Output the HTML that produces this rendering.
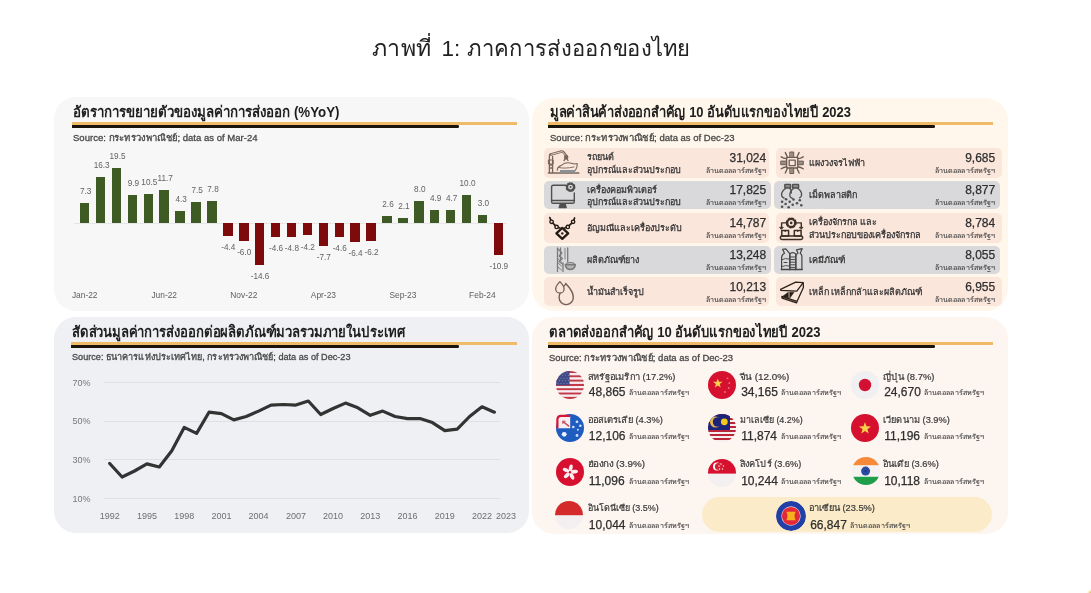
<!DOCTYPE html>
<html><head><meta charset="utf-8"><style>
*{margin:0;padding:0;box-sizing:border-box}
html,body{width:1091px;height:593px;overflow:hidden;background:#fff;font-family:"Liberation Sans", sans-serif;color:#222}
.ab{position:absolute;white-space:nowrap;line-height:1}
.pn{position:absolute;border-radius:22px}
.ttl{position:absolute;font-weight:bold;font-size:15px;color:#1e1e1e;white-space:nowrap;line-height:1}
.src{position:absolute;font-size:9px;color:#4a4a4a;-webkit-text-stroke:0.3px #4a4a4a;white-space:nowrap;line-height:1}
.ol{position:absolute;height:2.5px;background:#efbb69}
.bl{position:absolute;height:2.7px;background:#1a130d;border-radius:0 1.3px 1.3px 0}
.bar{position:absolute;width:9.6px}
.g{background:#3e5b26}
.r{background:#7d0b0b}
.vl{position:absolute;font-size:8.2px;color:#626262;line-height:1;white-space:nowrap;transform:translate(-50%,-50%)}
.xl{position:absolute;font-size:9px;color:#6e6e6e;line-height:1;white-space:nowrap;transform:translate(-50%,-50%)}
.row{position:absolute;border-radius:5px}
.pk{background:#fbe6dc}
.gy{background:#d9d9db}
.rt{position:absolute;font-size:9px;color:#333;-webkit-text-stroke:0.25px #333;line-height:1;white-space:nowrap}
.num{position:absolute;font-size:12px;color:#2e2e2e;-webkit-text-stroke:0.25px #2e2e2e;line-height:1;white-space:nowrap}
.unit{position:absolute;font-size:7px;color:#4a4a4a;-webkit-text-stroke:0.15px #4a4a4a;line-height:1;white-space:nowrap}
.flag{position:absolute;border-radius:50%;overflow:hidden}
.cn{position:absolute;font-size:9px;color:#3a3a3a;-webkit-text-stroke:0.2px #3a3a3a;line-height:1;white-space:nowrap}
.cv{position:absolute;font-size:12px;color:#2e2e2e;-webkit-text-stroke:0.25px #2e2e2e;line-height:1;white-space:nowrap}
.cu{position:absolute;font-size:7px;color:#4a4a4a;-webkit-text-stroke:0.15px #4a4a4a;line-height:1;white-space:nowrap}
</style></head><body><div style="position:absolute;left:0;top:0;width:1091px;height:593px;filter:blur(0.35px)">

<div class="ab" id="ti1" style="left:372.2px;top:37.65px;font-size:22.5px;color:#222;transform:scaleX(1.0259);transform-origin:0 0;">ภาพที่</div>
<div class="ab" id="ti2" style="left:441.6px;top:37.65px;font-size:22.5px;color:#222;">1:</div>
<div class="ab" id="ti3" style="left:467px;top:37.65px;font-size:22.5px;color:#222;transform:scaleX(0.9781);transform-origin:0 0;">ภาคการส่งออกของไทย</div>
<div class="pn" style="left:53.5px;top:97px;width:475.8px;height:214.3px;background:#f7f7f7"></div>
<div class="pn" style="left:53.5px;top:317.3px;width:475.8px;height:216px;background:#eff0f4"></div>
<div class="pn" style="left:531.8px;top:97.8px;width:475.8px;height:213.4px;background:#fff7eb"></div>
<div class="pn" style="left:531.8px;top:317.3px;width:475.8px;height:216.3px;background:#fdf5f0"></div>
<div class="ttl" id="t1" style="left:72.6px;top:103.80px;transform:scaleX(0.8867);transform-origin:0 0;">อัตราการขยายตัวของมูลค่าการส่งออก (%YoY)</div>
<div class="ol" style="left:71.5px;top:122px;width:445.0px"></div>
<div class="bl" style="left:71.5px;top:125px;width:387.2px"></div>
<div class="src" id="t1s" style="left:72.6px;top:133.58px;transform:scaleX(1.0600);transform-origin:0 0;">Source: กระทรวงพาณิชย์; data as of Mar-24</div>
<div class="ttl" id="t2" style="left:72.3px;top:323.80px;transform:scaleX(0.8730);transform-origin:0 0;">สัดส่วนมูลค่าการส่งออกต่อผลิตภัณฑ์มวลรวมภายในประเทศ</div>
<div class="ol" style="left:71.2px;top:342.2px;width:445.8px"></div>
<div class="bl" style="left:71.2px;top:345.2px;width:387.5px"></div>
<div class="src" id="t2s" style="left:72.3px;top:353.38px;transform:scaleX(1.0143);transform-origin:0 0;">Source: ธนาคารแห่งประเทศไทย, กระทรวงพาณิชย์; data as of Dec-23</div>
<div class="ttl" id="t3" style="left:549.6px;top:104.10px;transform:scaleX(0.8635);transform-origin:0 0;">มูลค่าสินค้าส่งออกสำคัญ 10 อันดับแรกของไทยปี 2023</div>
<div class="ol" style="left:548.1px;top:122.1px;width:444.7px"></div>
<div class="bl" style="left:548.1px;top:125.1px;width:387.3px"></div>
<div class="src" id="t3s" style="left:549.6px;top:133.58px;transform:scaleX(1.0569);transform-origin:0 0;">Source: กระทรวงพาณิชย์; data as of Dec-23</div>
<div class="ttl" id="t4" style="left:549.2px;top:323.70px;transform:scaleX(0.8714);transform-origin:0 0;">ตลาดส่งออกสำคัญ 10 อันดับแรกของไทยปี 2023</div>
<div class="ol" style="left:548px;top:342.2px;width:445.0px"></div>
<div class="bl" style="left:548px;top:345.2px;width:387.0px"></div>
<div class="src" id="t4s" style="left:549.2px;top:353.98px;transform:scaleX(1.0541);transform-origin:0 0;">Source: กระทรวงพาณิชย์; data as of Dec-23</div>
<div class="ab" style="left:74px;top:222.9px;width:433px;height:1px;background:#e6e6e6"></div>
<div class="bar g" style="left:79.9px;top:202.7px;height:20.7px"></div>
<div class="vl" style="left:85.7px;top:191.7px">7.3</div>
<div class="bar g" style="left:95.8px;top:177.3px;height:46.1px"></div>
<div class="vl" style="left:101.6px;top:166.3px">16.3</div>
<div class="bar g" style="left:111.7px;top:168.2px;height:55.2px"></div>
<div class="vl" style="left:117.5px;top:157.2px">19.5</div>
<div class="bar g" style="left:127.6px;top:195.4px;height:28.0px"></div>
<div class="vl" style="left:133.4px;top:184.4px">9.9</div>
<div class="bar g" style="left:143.5px;top:193.7px;height:29.7px"></div>
<div class="vl" style="left:149.3px;top:182.7px">10.5</div>
<div class="bar g" style="left:159.4px;top:190.3px;height:33.1px"></div>
<div class="vl" style="left:165.2px;top:179.3px">11.7</div>
<div class="bar g" style="left:175.4px;top:211.2px;height:12.2px"></div>
<div class="vl" style="left:181.2px;top:200.2px">4.3</div>
<div class="bar g" style="left:191.3px;top:202.2px;height:21.2px"></div>
<div class="vl" style="left:197.1px;top:191.2px">7.5</div>
<div class="bar g" style="left:207.2px;top:201.3px;height:22.1px"></div>
<div class="vl" style="left:213.0px;top:190.3px">7.8</div>
<div class="bar r" style="left:223.1px;top:223.4px;height:12.7px"></div>
<div class="vl" style="left:228.3px;top:248.1px">-4.4</div>
<div class="bar r" style="left:239.0px;top:223.4px;height:17.3px"></div>
<div class="vl" style="left:244.2px;top:252.7px">-6.0</div>
<div class="bar r" style="left:254.9px;top:223.4px;height:42.0px"></div>
<div class="vl" style="left:260.1px;top:277.4px">-14.6</div>
<div class="bar r" style="left:270.8px;top:223.4px;height:13.2px"></div>
<div class="vl" style="left:276.0px;top:248.6px">-4.6</div>
<div class="bar r" style="left:286.7px;top:223.4px;height:13.8px"></div>
<div class="vl" style="left:291.9px;top:249.2px">-4.8</div>
<div class="bar r" style="left:302.6px;top:223.4px;height:12.1px"></div>
<div class="vl" style="left:307.8px;top:247.5px">-4.2</div>
<div class="bar r" style="left:318.6px;top:223.4px;height:22.2px"></div>
<div class="vl" style="left:323.8px;top:257.6px">-7.7</div>
<div class="bar r" style="left:334.5px;top:223.4px;height:13.2px"></div>
<div class="vl" style="left:339.7px;top:248.6px">-4.6</div>
<div class="bar r" style="left:350.4px;top:223.4px;height:18.4px"></div>
<div class="vl" style="left:355.6px;top:253.8px">-6.4</div>
<div class="bar r" style="left:366.3px;top:223.4px;height:17.9px"></div>
<div class="vl" style="left:371.5px;top:253.3px">-6.2</div>
<div class="bar g" style="left:382.2px;top:216.0px;height:7.4px"></div>
<div class="vl" style="left:388.0px;top:205.0px">2.6</div>
<div class="bar g" style="left:398.1px;top:217.5px;height:5.9px"></div>
<div class="vl" style="left:403.9px;top:206.5px">2.1</div>
<div class="bar g" style="left:414.0px;top:200.8px;height:22.6px"></div>
<div class="vl" style="left:419.8px;top:189.8px">8.0</div>
<div class="bar g" style="left:429.9px;top:209.5px;height:13.9px"></div>
<div class="vl" style="left:435.7px;top:198.5px">4.9</div>
<div class="bar g" style="left:445.8px;top:210.1px;height:13.3px"></div>
<div class="vl" style="left:451.6px;top:199.1px">4.7</div>
<div class="bar g" style="left:461.7px;top:195.1px;height:28.3px"></div>
<div class="vl" style="left:467.5px;top:184.1px">10.0</div>
<div class="bar g" style="left:477.6px;top:214.9px;height:8.5px"></div>
<div class="vl" style="left:483.4px;top:203.9px">3.0</div>
<div class="bar r" style="left:493.6px;top:223.4px;height:31.4px"></div>
<div class="vl" style="left:498.8px;top:266.8px">-10.9</div>
<div class="xl" style="left:84.7px;top:295.3px;font-size:8.4px;color:#606060">Jan-22</div>
<div class="xl" style="left:164.2px;top:295.3px;font-size:8.4px;color:#606060">Jun-22</div>
<div class="xl" style="left:243.8px;top:295.3px;font-size:8.4px;color:#606060">Nov-22</div>
<div class="xl" style="left:323.4px;top:295.3px;font-size:8.4px;color:#606060">Apr-23</div>
<div class="xl" style="left:402.9px;top:295.3px;font-size:8.4px;color:#606060">Sep-23</div>
<div class="xl" style="left:482.4px;top:295.3px;font-size:8.4px;color:#606060">Feb-24</div>
<div class="ab" style="left:104.4px;top:382.4px;width:396px;height:1px;background:#dfe0e4"></div>
<div class="xl" style="left:81.5px;top:382.9px;color:#777">70%</div>
<div class="ab" style="left:104.4px;top:420.7px;width:396px;height:1px;background:#dfe0e4"></div>
<div class="xl" style="left:81.5px;top:421.2px;color:#777">50%</div>
<div class="ab" style="left:104.4px;top:459.3px;width:396px;height:1px;background:#dfe0e4"></div>
<div class="xl" style="left:81.5px;top:459.8px;color:#777">30%</div>
<div class="ab" style="left:104.4px;top:498.1px;width:396px;height:1px;background:#dfe0e4"></div>
<div class="xl" style="left:81.5px;top:498.6px;color:#777">10%</div>
<svg class="ab" style="left:0;top:0" width="1091" height="593"><polyline points="109.7,463.5 122.1,477.0 134.5,471.0 146.9,463.9 159.3,467.0 171.8,450.8 184.2,427.4 196.6,433.4 209.0,412.2 221.4,413.6 233.8,419.9 246.2,416.5 258.6,411.1 271.0,405.1 283.4,404.5 295.9,405.1 308.3,401.0 320.7,414.5 333.1,408.5 345.5,403.1 357.9,407.8 370.3,415.3 382.7,411.1 395.1,416.5 407.5,418.6 419.9,418.6 432.4,422.6 444.8,430.7 457.2,429.2 469.6,416.5 482.0,406.8 494.4,412.2" fill="none" stroke="#333" stroke-width="3.2" stroke-linejoin="round" stroke-linecap="round"/></svg>
<div class="xl" style="left:109.7px;top:515.6px">1992</div>
<div class="xl" style="left:146.9px;top:515.6px">1995</div>
<div class="xl" style="left:184.2px;top:515.6px">1998</div>
<div class="xl" style="left:221.4px;top:515.6px">2001</div>
<div class="xl" style="left:258.6px;top:515.6px">2004</div>
<div class="xl" style="left:295.9px;top:515.6px">2007</div>
<div class="xl" style="left:333.1px;top:515.6px">2010</div>
<div class="xl" style="left:370.3px;top:515.6px">2013</div>
<div class="xl" style="left:407.5px;top:515.6px">2016</div>
<div class="xl" style="left:444.8px;top:515.6px">2019</div>
<div class="xl" style="left:482.0px;top:515.6px">2022</div>
<div class="xl" style="left:506px;top:515.6px">2023</div>
<div class="row pk" style="left:544.0px;top:147.6px;width:225.3px;height:30.3px"></div>
<div class="ab" style="left:544px;top:148px"><svg width="40" height="30" viewBox="0 0 40 30" fill="none" stroke="#776759" stroke-width="1.3" stroke-linecap="round" stroke-linejoin="round">
<path d="M4.5 25 H34.8" stroke-width="1.6"/>
<path d="M5.4 24.5 V8 Q5.4 6 7.3 5.6 M8.6 24.5 V8.5"/>
<path d="M4.8 12 L9.2 12 L9.2 16 L4.8 16 Z" stroke-width="1"/>
<path d="M6.8 6.4 L17.5 3.6 Q19 3.4 19.8 4.6 L22.5 8.5" stroke-width="2.6"/>
<path d="M7.5 6.3 L17.5 3.7 Q18.8 3.6 19.5 4.7 L21.8 8" stroke-width="0.9" stroke="#e9d8cc"/>
<circle cx="22.2" cy="9.2" r="1.6" fill="#776759"/>
<path d="M21.5 10.5 L20 12.5 M23 10.8 L24 12.5"/>
<path d="M5.6 17 H8.4 M5.6 20 H8.4"/>
<path d="M13.2 22.3 Q13.5 18.5 17 17.6 L20 15.6 Q23 14.3 26 15 L30.5 16 L33.2 15.5 Q33.5 19.5 31.5 22.3" stroke-width="1.1"/>
<path d="M15 19.5 Q20 21 30 19" stroke-width="0.9"/>
<rect x="16" y="22" width="15" height="2.6" fill="#8d9197" stroke="none"/>
</svg></div>
<div class="rt" style="left:587.2px;top:153.33px">รถยนต์</div>
<div class="rt" style="left:587.2px;top:165.73px">อุปกรณ์และส่วนประกอบ</div>
<div class="num" style="right:324.8px;top:152.14px">31,024</div>
<div class="unit" id="u00" style="right:324.8px;top:166.72px;transform:scaleX(1.0169);transform-origin:100% 0;">ล้านดอลลาร์สหรัฐฯ</div>
<div class="row pk" style="left:775.5px;top:147.6px;width:226.7px;height:30.3px"></div>
<div class="ab" style="left:774px;top:148px"><svg width="40" height="30" viewBox="0 0 40 30" fill="none" stroke="#6b5d53" stroke-width="1.3" stroke-linecap="round" stroke-linejoin="round">
<rect x="12.6" y="9.4" width="11.2" height="10.6" rx="0.8"/>
<rect x="15.2" y="12.1" width="6" height="5.6"/>
<rect x="16.2" y="4" width="3.5" height="5.4" fill="#9a8c82" stroke-width="1"/>
<rect x="16.2" y="20" width="3.5" height="5.5" fill="#9a8c82" stroke-width="1"/>
<rect x="7.1" y="13.1" width="5.5" height="3.6" fill="#9a8c82" stroke-width="1"/>
<rect x="23.8" y="13.1" width="5.5" height="3.6" fill="#9a8c82" stroke-width="1"/>
<path d="M13.5 9.4 Q12.3 6.5 11.3 4.6 M22.9 9.4 Q24.1 6.5 25.1 4.6 M13.5 20 Q12.3 23 11.3 25 M22.9 20 Q24.1 23 25.1 25 M12.6 10.6 Q9.5 10.3 7.2 8.8 M23.8 10.6 Q26.9 10.3 29.2 8.8 M12.6 18.8 Q9.5 19.2 7.2 20.8 M23.8 18.8 Q26.9 19.2 29.2 20.8" stroke-width="1.4"/>
</svg></div>
<div class="rt" style="left:808.7px;top:158.93px">แผงวงจรไฟฟ้า</div>
<div class="num" style="right:95.8px;top:152.14px">9,685</div>
<div class="unit" id="u01" style="right:95.8px;top:166.72px;transform:scaleX(1.0169);transform-origin:100% 0;">ล้านดอลลาร์สหรัฐฯ</div>
<div class="row gy" style="left:543.8px;top:181.0px;width:226.8px;height:28.0px"></div>
<div class="ab" style="left:544px;top:180px"><svg width="40" height="30" viewBox="0 0 40 30" fill="none" stroke="#4f4f4f" stroke-width="1.4" stroke-linecap="round" stroke-linejoin="round">
<path d="M21.8 5.3 H9.2 Q7.6 5.3 7.6 6.9 V21.7 Q7.6 23.3 9.2 23.3 H28.7 Q30.3 23.3 30.3 21.7 V13"/>
<path d="M7.6 20.5 H30.3"/>
<path d="M15.2 27.6 L16.4 23.8 H21 L22.2 27.6 Z" fill="#4f4f4f"/>
<circle cx="26.5" cy="7.1" r="3.2" stroke-width="1.5"/>
<circle cx="26.5" cy="7.1" r="4.1" stroke-width="1.6" stroke-dasharray="1.6 1.6"/>
<circle cx="26.5" cy="7.1" r="1" fill="#4f4f4f" stroke="none"/>
</svg></div>
<div class="rt" style="left:587.2px;top:185.58px">เครื่องคอมพิวเตอร์</div>
<div class="rt" style="left:587.2px;top:197.98px">อุปกรณ์และส่วนประกอบ</div>
<div class="num" style="right:324.8px;top:184.39px">17,825</div>
<div class="unit" id="u10" style="right:324.8px;top:198.97px;transform:scaleX(1.0169);transform-origin:100% 0;">ล้านดอลลาร์สหรัฐฯ</div>
<div class="row gy" style="left:773.6px;top:181.0px;width:226.1px;height:28.0px"></div>
<div class="ab" style="left:774px;top:180px"><svg width="40" height="30" viewBox="0 0 40 30" fill="none" stroke="#505050" stroke-width="1.4" stroke-linecap="round" stroke-linejoin="round">
<rect x="10.8" y="4.4" width="5.8" height="3.6" rx="0.6" fill="#8a8a8a"/>
<rect x="18.6" y="4.4" width="6" height="3.6" rx="0.6" fill="#8a8a8a"/>
<path d="M11.8 8.2 Q6.5 12 7.8 16.2 Q8.5 17.5 10 18 M15.8 8.2 Q17.6 10 17.3 13"/>
<path d="M19.6 8.2 Q15 12 16 16.5 Q16.7 17.8 18.2 18.2 M23.8 8.2 Q28.8 12 27.3 16.3 Q26.8 17.3 25.6 17.8"/>
<circle cx="8.1" cy="21.7" r="1.3" fill="#505050" stroke="none"/><circle cx="11.6" cy="24" r="1.3" fill="#505050" stroke="none"/><circle cx="8.1" cy="26.8" r="1.3" fill="#505050" stroke="none"/><circle cx="12.1" cy="19.2" r="1.3" fill="#505050" stroke="none"/><circle cx="15.7" cy="21.7" r="1.3" fill="#505050" stroke="none"/><circle cx="14.7" cy="27.3" r="1.3" fill="#505050" stroke="none"/><circle cx="19.5" cy="19.5" r="1.3" fill="#505050" stroke="none"/><circle cx="18.7" cy="24.8" r="1.3" fill="#505050" stroke="none"/><circle cx="23" cy="23.3" r="1.3" fill="#505050" stroke="none"/><circle cx="25.8" cy="20.2" r="1.3" fill="#505050" stroke="none"/><circle cx="27.3" cy="25.3" r="1.3" fill="#505050" stroke="none"/></svg></div>
<div class="rt" style="left:808.7px;top:191.18px">เม็ดพลาสติก</div>
<div class="num" style="right:95.8px;top:184.39px">8,877</div>
<div class="unit" id="u11" style="right:95.8px;top:198.97px;transform:scaleX(1.0169);transform-origin:100% 0;">ล้านดอลลาร์สหรัฐฯ</div>
<div class="row pk" style="left:544.0px;top:212.5px;width:225.3px;height:30.4px"></div>
<div class="ab" style="left:544px;top:213px"><svg width="40" height="30" viewBox="0 0 40 30" fill="none" stroke="#241b14" stroke-width="1.4" stroke-linecap="round" stroke-linejoin="round">
<path d="M5.8 4.6 L7.6 8.8 L12.6 13.9 L16 15 M20.6 15 L23.8 13.9 L29.1 8.8 L30.6 5" stroke-width="1.7"/>
<circle cx="7.6" cy="8.8" r="1.7" fill="#fbe6dc"/>
<circle cx="12.6" cy="13.9" r="1.7" fill="#fbe6dc"/>
<circle cx="23.8" cy="13.9" r="1.7" fill="#fbe6dc"/>
<circle cx="29.1" cy="8.8" r="1.7" fill="#fbe6dc"/>
<path d="M18.3 14.9 L24.2 20.4 L18.3 25.9 L12.4 20.4 Z" stroke-width="2.3"/>
<circle cx="18.3" cy="20.4" r="1.2" fill="#241b14" stroke="none"/>
</svg></div>
<div class="rt" style="left:587.2px;top:223.88px">อัญมณีและเครื่องประดับ</div>
<div class="num" style="right:324.8px;top:217.09px">14,787</div>
<div class="unit" id="u20" style="right:324.8px;top:231.67px;transform:scaleX(1.0169);transform-origin:100% 0;">ล้านดอลลาร์สหรัฐฯ</div>
<div class="row pk" style="left:775.5px;top:212.5px;width:226.7px;height:30.4px"></div>
<div class="ab" style="left:774px;top:213px"><svg width="40" height="30" viewBox="0 0 40 30" fill="none" stroke="#3a2e26" stroke-width="1.5" stroke-linecap="round" stroke-linejoin="round">
<circle cx="17.2" cy="9.9" r="3.6" stroke-width="1.5"/>
<circle cx="17.2" cy="9.9" r="4.6" stroke-width="1.8" stroke-dasharray="1.8 1.8"/>
<circle cx="17.2" cy="9.9" r="1.3" fill="#3a2e26" stroke="none"/>
<path d="M12.4 9.9 H7.6 V14.3 M22 9.9 H27.3 V14.3" stroke-width="1.4"/>
<path d="M5.9 14.3 H9.3 L7.6 16.2 Z M25.6 14.3 H29 L27.3 16.2 Z" fill="#3a2e26" stroke-width="0.8"/>
<rect x="7.8" y="17.5" width="6.8" height="5.4" stroke-width="1.5"/>
<rect x="20.3" y="17.5" width="6.8" height="5.4" stroke-width="1.5"/>
<path d="M10.4 17.5 L11.2 18.8 L12 17.5 M22.9 17.5 L23.7 18.8 L24.5 17.5" stroke-width="0.9"/>
<rect x="6.3" y="23.1" width="22.4" height="3.4" rx="1.7" stroke-width="1.5"/>
</svg></div>
<div class="rt" style="left:808.7px;top:218.28px">เครื่องจักรกล และ</div>
<div class="rt" style="left:808.7px;top:230.68px">ส่วนประกอบของเครื่องจักรกล</div>
<div class="num" style="right:95.8px;top:217.09px">8,784</div>
<div class="unit" id="u21" style="right:95.8px;top:231.67px;transform:scaleX(1.0169);transform-origin:100% 0;">ล้านดอลลาร์สหรัฐฯ</div>
<div class="row gy" style="left:543.8px;top:245.5px;width:226.8px;height:28.1px"></div>
<div class="ab" style="left:544px;top:245px"><svg width="40" height="30" viewBox="0 0 40 30" fill="none" stroke="#7a7a7a" stroke-width="1.3" stroke-linecap="round" stroke-linejoin="round">
<path d="M13.5 3 V26.5 M16.5 3 V15 M19 18 V26.5 M23.7 3 V17"/>
<path d="M14 4 L18 8 L15 11 L18.5 13.5 L15 16.5 L18.5 19" stroke-width="1.1"/>
<path d="M21 3.5 V14" stroke-width="0.9"/>
<path d="M21.4 19.6 A4.9 4.9 0 0 0 31.2 19.6 Z" stroke-width="1.7" fill="#b5b5b5"/>
<path d="M22.6 18.2 Q26.3 16.8 30 18.2" stroke-width="1.1"/>
<path d="M14 14 L17.5 17 M14 18 L17.5 21 M14 22 L17.5 25" stroke-width="0.9"/>
</svg></div>
<div class="rt" style="left:587.2px;top:255.73px">ผลิตภัณฑ์ยาง</div>
<div class="num" style="right:324.8px;top:248.94px">13,248</div>
<div class="unit" id="u30" style="right:324.8px;top:263.52px;transform:scaleX(1.0169);transform-origin:100% 0;">ล้านดอลลาร์สหรัฐฯ</div>
<div class="row gy" style="left:773.6px;top:245.5px;width:226.1px;height:28.1px"></div>
<div class="ab" style="left:774px;top:245px"><svg width="40" height="30" viewBox="0 0 40 30" fill="none" stroke="#454545" stroke-width="1.2" stroke-linecap="round" stroke-linejoin="round">
<path d="M7.6 24.6 V12.5 Q7.8 9.5 10.5 8.3 L8.6 4.3 L11.8 3.9 L15.6 8.3 Q15.8 9 15.8 10 V24.6"/>
<path d="M15.8 24.6 V9 Q17 7.6 18.6 7.6 Q20.5 7.6 21.8 9 V24.6"/>
<path d="M21.8 24.6 V11.5 Q22 9 24 8.2 L22.5 4.8 L28.2 3.6 L26.2 8.2 Q27.9 9.2 27.9 12 V24.6"/>
<path d="M7.4 24.6 H28.1" stroke-width="1.5"/>
<path d="M15.8 12 H21.8 M15.8 14.6 H21.8 M15.8 17.2 H21.8 M15.8 19.8 H21.8 M15.8 22.4 H21.8" stroke-width="1"/>
<path d="M8 14.5 Q11 12.8 15.5 14 M8 21.5 Q11 19.8 15.5 21" stroke-width="0.9"/>
<path d="M10 17.5 H13" stroke-width="1"/>
</svg></div>
<div class="rt" style="left:808.7px;top:255.73px">เคมีภัณฑ์</div>
<div class="num" style="right:95.8px;top:248.94px">8,055</div>
<div class="unit" id="u31" style="right:95.8px;top:263.52px;transform:scaleX(1.0169);transform-origin:100% 0;">ล้านดอลลาร์สหรัฐฯ</div>
<div class="row pk" style="left:544.0px;top:277.4px;width:225.3px;height:28.8px"></div>
<div class="ab" style="left:544px;top:277px"><svg width="40" height="30" viewBox="0 0 40 30" fill="none" stroke="#6c6057" stroke-width="1.3" stroke-linecap="round" stroke-linejoin="round">
<path d="M21.7 6.6 Q29.3 14.5 29.3 20.2 A7.1 7.1 0 0 1 15.1 20.8 Q15 18 16.2 16" stroke-width="1.4"/>
<path d="M15.9 4.6 Q20.1 8.8 20.1 11.9 A4.2 4.2 0 0 1 11.7 11.9 Q11.7 8.8 15.9 4.6 Z" stroke-width="1.3"/>
<path d="M19.5 9.5 L21.5 7.5" stroke-width="1.2"/>
</svg></div>
<div class="rt" style="left:587.2px;top:287.98px">น้ำมันสำเร็จรูป</div>
<div class="num" style="right:324.8px;top:281.19px">10,213</div>
<div class="unit" id="u40" style="right:324.8px;top:295.77px;transform:scaleX(1.0169);transform-origin:100% 0;">ล้านดอลลาร์สหรัฐฯ</div>
<div class="row pk" style="left:775.5px;top:277.4px;width:226.7px;height:28.8px"></div>
<div class="ab" style="left:774px;top:277px"><svg width="40" height="30" viewBox="0 0 40 30" fill="none" stroke="#2a2018" stroke-width="1.3" stroke-linecap="round" stroke-linejoin="round">
<path d="M6.6 12.3 L21.7 5.1 L29.2 5.6 L22.8 14.1 L6.8 13.4 Z" stroke-width="1.3"/>
<path d="M29.2 5.8 L29.4 10.4 L23 24.4 M7.8 19.4 L8.1 21.2 L22.6 25.8 L23 24.4 L7.8 19.4" stroke-width="1.3"/>
<path d="M8.4 19.6 L14.3 15.3 L14.3 20.9 Z" fill="#2a2018" stroke-width="0.6"/>
<path d="M15.9 15.2 L20 15.2 L15.9 20.9 Z" fill="#2a2018" stroke-width="0.6"/>
</svg></div>
<div class="rt" style="left:808.7px;top:287.98px">เหล็ก เหล็กกล้าและผลิตภัณฑ์</div>
<div class="num" style="right:95.8px;top:281.19px">6,955</div>
<div class="unit" id="u41" style="right:95.8px;top:295.77px;transform:scaleX(1.0169);transform-origin:100% 0;">ล้านดอลลาร์สหรัฐฯ</div>
<div class="ab" style="left:702.3px;top:497.2px;width:290px;height:35.2px;border-radius:17.6px;background:#fcebc8"></div>
<div class="flag" style="left:555.5px;top:371.3px;width:28px;height:28px;"><svg width="28" height="28" viewBox="0 0 28 28"><rect x="0" y="0.00" width="28" height="2.15" fill="#c23a48"/><rect x="0" y="2.15" width="28" height="2.15" fill="#f7eef0"/><rect x="0" y="4.31" width="28" height="2.15" fill="#c23a48"/><rect x="0" y="6.46" width="28" height="2.15" fill="#f7eef0"/><rect x="0" y="8.62" width="28" height="2.15" fill="#c23a48"/><rect x="0" y="10.77" width="28" height="2.15" fill="#f7eef0"/><rect x="0" y="12.92" width="28" height="2.15" fill="#c23a48"/><rect x="0" y="15.08" width="28" height="2.15" fill="#f7eef0"/><rect x="0" y="17.23" width="28" height="2.15" fill="#c23a48"/><rect x="0" y="19.38" width="28" height="2.15" fill="#f7eef0"/><rect x="0" y="21.54" width="28" height="2.15" fill="#c23a48"/><rect x="0" y="23.69" width="28" height="2.15" fill="#f7eef0"/><rect x="0" y="25.85" width="28" height="2.15" fill="#c23a48"/><rect x="0" y="0" width="13.5" height="14.2" fill="#3f4a86"/><circle cx="2.0" cy="2.0" r="0.45" fill="#c8cbe0"/><circle cx="5.0" cy="2.0" r="0.45" fill="#c8cbe0"/><circle cx="8.0" cy="2.0" r="0.45" fill="#c8cbe0"/><circle cx="11.0" cy="2.0" r="0.45" fill="#c8cbe0"/><circle cx="3.5" cy="4.6" r="0.45" fill="#c8cbe0"/><circle cx="6.5" cy="4.6" r="0.45" fill="#c8cbe0"/><circle cx="9.5" cy="4.6" r="0.45" fill="#c8cbe0"/><circle cx="12.5" cy="4.6" r="0.45" fill="#c8cbe0"/><circle cx="2.0" cy="7.2" r="0.45" fill="#c8cbe0"/><circle cx="5.0" cy="7.2" r="0.45" fill="#c8cbe0"/><circle cx="8.0" cy="7.2" r="0.45" fill="#c8cbe0"/><circle cx="11.0" cy="7.2" r="0.45" fill="#c8cbe0"/><circle cx="3.5" cy="9.8" r="0.45" fill="#c8cbe0"/><circle cx="6.5" cy="9.8" r="0.45" fill="#c8cbe0"/><circle cx="9.5" cy="9.8" r="0.45" fill="#c8cbe0"/><circle cx="12.5" cy="9.8" r="0.45" fill="#c8cbe0"/><circle cx="2.0" cy="12.4" r="0.45" fill="#c8cbe0"/><circle cx="5.0" cy="12.4" r="0.45" fill="#c8cbe0"/><circle cx="8.0" cy="12.4" r="0.45" fill="#c8cbe0"/><circle cx="11.0" cy="12.4" r="0.45" fill="#c8cbe0"/></svg></div>
<div class="cn" id="nus" style="left:588.0px;top:372.78px;transform:scaleX(1.0403);transform-origin:0 0;">สหรัฐอเมริกา (17.2%)</div>
<div class="cv" style="left:588.8px;top:386.04px">48,865</div>
<div class="cu" id="cus" style="left:629.0px;top:389.47px;transform:scaleX(1.0169);transform-origin:0 0;">ล้านดอลลาร์สหรัฐฯ</div>
<div class="flag" style="left:707.5px;top:371.3px;width:28px;height:28px;"><svg width="28" height="28" viewBox="0 0 28 28"><rect width="28" height="28" fill="#d5112f"/><polygon points="9.80,7.40 10.98,10.78 14.56,10.85 11.70,13.02 12.74,16.45 9.80,14.40 6.86,16.45 7.90,13.02 5.04,10.85 8.62,10.78" fill="#f7d04a"/><circle cx="19.5" cy="7.3" r="0.9" fill="#ee7282"/><circle cx="21.3" cy="12.2" r="0.9" fill="#ee7282"/><circle cx="20.7" cy="17" r="0.9" fill="#ee7282"/><circle cx="17" cy="21" r="0.9" fill="#ee7282"/></svg></div>
<div class="cn" id="ncn" style="left:740.4px;top:372.78px;transform:scaleX(1.0974);transform-origin:0 0;">จีน (12.0%)</div>
<div class="cv" style="left:741.2px;top:386.04px">34,165</div>
<div class="cu" id="ccn" style="left:781.4px;top:389.47px;transform:scaleX(1.0169);transform-origin:0 0;">ล้านดอลลาร์สหรัฐฯ</div>
<div class="flag" style="left:851.4px;top:371.3px;width:28px;height:28px;"><svg width="28" height="28" viewBox="0 0 28 28"><rect width="28" height="28" fill="#f0eff2"/><circle cx="14" cy="14" r="6.2" fill="#d21032"/></svg></div>
<div class="cn" id="njp" style="left:883.4px;top:372.78px;transform:scaleX(1.0507);transform-origin:0 0;">ญี่ปุ่น (8.7%)</div>
<div class="cv" style="left:884.2px;top:386.04px">24,670</div>
<div class="cu" id="cjp" style="left:924.4px;top:389.47px;transform:scaleX(1.0169);transform-origin:0 0;">ล้านดอลลาร์สหรัฐฯ</div>
<div class="flag" style="left:555.5px;top:414.2px;width:28px;height:28px;border-radius:0;overflow:visible;"><svg width="28" height="28" viewBox="0 0 28 28" style="overflow:visible"><circle cx="14" cy="14" r="14" fill="#1e5cc0"/><path d="M1.4 14.2 V5.5 Q1.4 1.8 5.1 1.8 H14.2 V14.2 Z" fill="#f7eef0"/><path d="M1.4 14.2 V5.5 Q1.4 1.8 5.1 1.8 H14.2" stroke="#d4163a" stroke-width="2.2" fill="none"/><path d="M7 7.5 L13.1 12.4" stroke="#c84a5a" stroke-width="1.4"/><path d="M6.6 7.1 L9.6 7.4 M6.6 7.1 L7 10" stroke="#c84a5a" stroke-width="1"/><circle cx="8.2" cy="20.3" r="2.4" fill="#eef4ff"/><circle cx="21" cy="7.8" r="1.4" fill="#cfe0ff"/><circle cx="24.3" cy="11.8" r="1.3" fill="#cfe0ff"/><circle cx="17.3" cy="13" r="1.3" fill="#cfe0ff"/><circle cx="21.9" cy="15.7" r="1" fill="#cfe0ff"/><circle cx="21" cy="21.5" r="1.4" fill="#cfe0ff"/></svg></div>
<div class="cn" id="nau" style="left:588.0px;top:416.08px;transform:scaleX(1.0414);transform-origin:0 0;">ออสเตรเลีย (4.3%)</div>
<div class="cv" style="left:588.8px;top:429.94px">12,106</div>
<div class="cu" id="cau" style="left:629.0px;top:433.37px;transform:scaleX(1.0169);transform-origin:0 0;">ล้านดอลลาร์สหรัฐฯ</div>
<div class="flag" style="left:707.5px;top:414.2px;width:28px;height:28px;"><svg width="28" height="28" viewBox="0 0 28 28"><rect x="0" y="0.00" width="28" height="2" fill="#b8243a"/><rect x="0" y="2.00" width="28" height="2" fill="#f7eef0"/><rect x="0" y="4.00" width="28" height="2" fill="#b8243a"/><rect x="0" y="6.00" width="28" height="2" fill="#f7eef0"/><rect x="0" y="8.00" width="28" height="2" fill="#b8243a"/><rect x="0" y="10.00" width="28" height="2" fill="#f7eef0"/><rect x="0" y="12.00" width="28" height="2" fill="#b8243a"/><rect x="0" y="14.00" width="28" height="2" fill="#f7eef0"/><rect x="0" y="16.00" width="28" height="2" fill="#b8243a"/><rect x="0" y="18.00" width="28" height="2" fill="#f7eef0"/><rect x="0" y="20.00" width="28" height="2" fill="#b8243a"/><rect x="0" y="22.00" width="28" height="2" fill="#f7eef0"/><rect x="0" y="24.00" width="28" height="2" fill="#b8243a"/><rect x="0" y="26.00" width="28" height="2" fill="#f7eef0"/><rect width="22" height="16" fill="#1e237a"/><circle cx="7.6" cy="8" r="5.6" fill="#e8b84c"/><circle cx="9.6" cy="8" r="4.8" fill="#1e237a"/><circle cx="16.3" cy="7.8" r="3.4" fill="#f3c81c"/></svg></div>
<div class="cn" id="nmy" style="left:740.4px;top:416.08px;transform:scaleX(0.9966);transform-origin:0 0;">มาเลเซีย (4.2%)</div>
<div class="cv" style="left:741.2px;top:429.94px">11,874</div>
<div class="cu" id="cmy" style="left:781.4px;top:433.37px;transform:scaleX(1.0169);transform-origin:0 0;">ล้านดอลลาร์สหรัฐฯ</div>
<div class="flag" style="left:851.4px;top:414.4px;width:28px;height:28px;"><svg width="28" height="28" viewBox="0 0 28 28"><rect width="28" height="28" fill="#d5112f"/><polygon points="14.00,8.10 15.48,12.36 19.99,12.45 16.40,15.18 17.70,19.50 14.00,16.92 10.30,19.50 11.60,15.18 8.01,12.45 12.52,12.36" fill="#f7d04a"/></svg></div>
<div class="cn" id="nvn" style="left:883.4px;top:416.08px;transform:scaleX(1.0274);transform-origin:0 0;">เวียดนาม (3.9%)</div>
<div class="cv" style="left:884.2px;top:429.94px">11,196</div>
<div class="cu" id="cvn" style="left:924.4px;top:433.37px;transform:scaleX(1.0169);transform-origin:0 0;">ล้านดอลลาร์สหรัฐฯ</div>
<div class="flag" style="left:555.5px;top:458.3px;width:28px;height:28px;"><svg width="28" height="28" viewBox="0 0 28 28"><rect width="28" height="28" fill="#d7102f"/><ellipse cx="14" cy="9.8" rx="1.9" ry="3.5" fill="#fbeef2" transform="rotate(10 14 14.3)"/><ellipse cx="14" cy="9.8" rx="1.9" ry="3.5" fill="#fbeef2" transform="rotate(82 14 14.3)"/><ellipse cx="14" cy="9.8" rx="1.9" ry="3.5" fill="#fbeef2" transform="rotate(154 14 14.3)"/><ellipse cx="14" cy="9.8" rx="1.9" ry="3.5" fill="#fbeef2" transform="rotate(226 14 14.3)"/><ellipse cx="14" cy="9.8" rx="1.9" ry="3.5" fill="#fbeef2" transform="rotate(298 14 14.3)"/><circle cx="14" cy="14.3" r="0.7" fill="#d7102f"/></svg></div>
<div class="cn" id="nhk" style="left:588.0px;top:460.38px;transform:scaleX(1.0958);transform-origin:0 0;">ฮ่องกง (3.9%)</div>
<div class="cv" style="left:588.8px;top:474.64px">11,096</div>
<div class="cu" id="chk" style="left:629.0px;top:478.07px;transform:scaleX(1.0169);transform-origin:0 0;">ล้านดอลลาร์สหรัฐฯ</div>
<div class="flag" style="left:707.5px;top:458.6px;width:28px;height:28px;"><svg width="28" height="28" viewBox="0 0 28 28"><rect width="28" height="28" fill="#f4f0f2"/><rect width="28" height="14.6" fill="#d7102f"/><circle cx="9" cy="7.5" r="4" fill="#fff"/><circle cx="10.5" cy="7.5" r="3.6" fill="#d71f33"/><circle cx="13" cy="5" r="0.7" fill="#fff"/><circle cx="15.5" cy="7" r="0.7" fill="#fff"/><circle cx="14.5" cy="10" r="0.7" fill="#fff"/><circle cx="11.5" cy="10" r="0.7" fill="#fff"/><circle cx="11" cy="7" r="0.7" fill="#fff"/></svg></div>
<div class="cn" id="nsg" style="left:740.4px;top:460.38px;transform:scaleX(1.0214);transform-origin:0 0;">สิงคโปร์ (3.6%)</div>
<div class="cv" style="left:741.2px;top:474.64px">10,244</div>
<div class="cu" id="csg" style="left:781.4px;top:478.07px;transform:scaleX(1.0169);transform-origin:0 0;">ล้านดอลลาร์สหรัฐฯ</div>
<div class="flag" style="left:852.0px;top:456.9px;width:28px;height:28px;"><svg width="28" height="28" viewBox="0 0 28 28"><rect width="28" height="28" fill="#f6f2f2"/><rect width="28" height="8.2" fill="#f68a3a"/><rect y="19.8" width="28" height="8.2" fill="#1f9e4a"/><circle cx="13.6" cy="14.1" r="4.5" fill="#2b4ba2"/><circle cx="13.6" cy="14.1" r="1.2" fill="#1e3a8a"/></svg></div>
<div class="cn" id="nin" style="left:883.4px;top:460.38px;transform:scaleX(1.0349);transform-origin:0 0;">อินเดีย (3.6%)</div>
<div class="cv" style="left:884.2px;top:474.64px">10,118</div>
<div class="cu" id="cin" style="left:924.4px;top:478.07px;transform:scaleX(1.0169);transform-origin:0 0;">ล้านดอลลาร์สหรัฐฯ</div>
<div class="flag" style="left:555.3px;top:501.1px;width:28px;height:28px;"><svg width="28" height="28" viewBox="0 0 28 28"><rect width="28" height="28" fill="#f3eff1"/><rect width="28" height="14.2" fill="#d52a2b"/></svg></div>
<div class="cn" id="nid" style="left:588.0px;top:504.08px;transform:scaleX(0.9970);transform-origin:0 0;">อินโดนีเซีย (3.5%)</div>
<div class="cv" style="left:588.8px;top:518.84px">10,044</div>
<div class="cu" id="cid" style="left:629.0px;top:522.27px;transform:scaleX(1.0169);transform-origin:0 0;">ล้านดอลลาร์สหรัฐฯ</div>
<div class="flag" style="left:775.5px;top:500.5px;width:30px;height:30px;"><svg width="30" height="30" viewBox="0 0 30 30"><circle cx="15" cy="15" r="15" fill="#2040a8"/><circle cx="15" cy="15" r="9.7" fill="#f1c9d2"/><circle cx="15" cy="15" r="9.1" fill="#e3283a"/><path d="M10.3 10.8 H19.7 Q17.3 15 19.7 19.2 H10.3 Q12.7 15 10.3 10.8 Z" fill="#f6b01c"/></svg></div>
<div class="cn" id="nas" style="left:809.4px;top:504.08px;transform:scaleX(1.0294);transform-origin:0 0;">อาเซียน (23.5%)</div>
<div class="cv" style="left:810.2px;top:518.84px">66,847</div>
<div class="cu" id="cas" style="left:850.4px;top:522.27px;transform:scaleX(1.0169);transform-origin:0 0;">ล้านดอลลาร์สหรัฐฯ</div>
<div class="ab" style="left:1087.5px;top:589.5px;width:12px;height:12px;border-radius:50%;background:#e9b43e;filter:blur(0.8px)"></div>
</div></body></html>
